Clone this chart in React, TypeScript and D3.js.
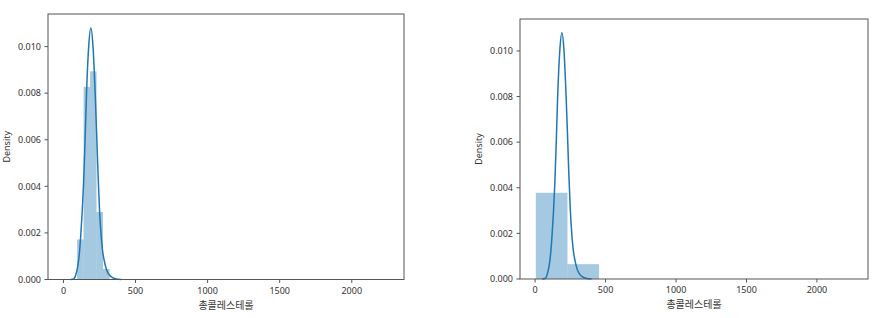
import React from "react";
import * as d3 from "d3";

// data range of the variable (총콜레스테롤)
const dataMin = 5;
const dataMax = 2250;

// left: 50 bins, density per bin
const leftDensity = [
  0, 0, 0.00172, 0.00827, 0.00894, 0.0029, 0.00045, 0, 0, 0,
  0, 0, 0, 0, 0, 0, 0, 0, 0, 0,
  0, 0, 0, 0, 0, 0, 0, 0, 0, 0,
  0, 0, 0, 0, 0, 0, 0, 0, 0, 0,
  0, 0, 0, 0, 0, 0, 0, 0, 0, 0,
];
// right: 10 bins
const rightDensity = [0.00378, 0.00065, 0, 0, 0, 0, 0, 0, 0, 0];

// KDE curve
const kdeX = [50, 70, 80, 90, 100, 110, 120, 130, 140, 150, 160, 175, 190, 205, 220, 230, 240, 250, 260, 270, 280, 300, 320, 340, 360, 380, 400];
const kdeY = [0, 0.00002, 0.0001, 0.0003, 0.0006, 0.0011, 0.0019, 0.0029, 0.0042, 0.006, 0.008, 0.01, 0.0108, 0.0100, 0.008, 0.0063, 0.0045, 0.003, 0.002, 0.0013, 0.0009, 0.0004, 0.00018, 0.00008, 0.00003, 0.00001, 0];

const xTicks = [0, 500, 1000, 1500, 2000];
const yTicks = [0, 0.002, 0.004, 0.006, 0.008, 0.01];
const yMax = 0.0114;
const xLabel = "총콜레스테롤";
const yLabel = "Density";

const FONT = "'Noto Sans', 'Noto Sans CJK KR', sans-serif";
const BAR = "#1f77b4";

type PanelProps = { left: number; right: number; top: number; bottom: number; bins: number[] };

function Panel({ left, right, top, bottom, bins }: PanelProps) {
  const margin = (dataMax - dataMin) * 0.05;
  const x = d3.scaleLinear().domain([dataMin - margin, dataMax + margin]).range([left, right]);
  const y = d3.scaleLinear().domain([0, yMax]).range([bottom, top]);
  const n = bins.length;
  const w = (dataMax - dataMin) / n;
  const line = d3
    .line<number>()
    .x((_, i) => x(kdeX[i]))
    .y((d) => y(d))
    .curve(d3.curveMonotoneX);
  const fmt = d3.format(".3f");
  return (
    <g>
      {bins.map((d, i) =>
        d > 0 ? (
          <rect
            key={i}
            x={x(dataMin + i * w)}
            width={x(dataMin + (i + 1) * w) - x(dataMin + i * w)}
            y={y(d)}
            height={bottom - y(d)}
            fill={BAR}
            fillOpacity={0.4}
          />
        ) : null
      )}
      <path d={line(kdeY) || ""} fill="none" stroke={BAR} strokeWidth={1.5} />
      <rect x={left} y={top} width={right - left} height={bottom - top} fill="none" stroke="#555" strokeWidth={1} />
      {xTicks.map((t) => (
        <g key={t}>
          <line x1={x(t)} x2={x(t)} y1={bottom} y2={bottom + 3.5} stroke="#555" />
          <text x={x(t)} y={bottom + 14} textAnchor="middle" fontSize={9} fill="#333" fontFamily={FONT}>
            {t}
          </text>
        </g>
      ))}
      {yTicks.map((t) => (
        <g key={t}>
          <line x1={left - 3.5} x2={left} y1={y(t)} y2={y(t)} stroke="#555" />
          <text x={left - 7} y={y(t) + 3.2} textAnchor="end" fontSize={9} fill="#333" fontFamily={FONT}>
            {fmt(t)}
          </text>
        </g>
      ))}
      <text x={(left + right) / 2} y={bottom + 29} textAnchor="middle" fontSize={10} fill="#333" fontFamily={FONT}>
        {xLabel}
      </text>
      <text
        transform={`translate(${left - 38},${(top + bottom) / 2}) rotate(-90)`}
        textAnchor="middle"
        fontSize={9}
        fill="#333"
        fontFamily={FONT}
      >
        {yLabel}
      </text>
    </g>
  );
}

export default function App() {
  return (
    <svg width={878} height={318} style={{ position: "absolute", left: 0, top: 0, background: "#fff" }}>
      <rect width={878} height={318} fill="#fff" />
      <Panel left={48} right={404} top={14} bottom={279.5} bins={leftDensity} />
      <Panel left={520} right={868} top={19} bottom={279} bins={rightDensity} />
    </svg>
  );
}
